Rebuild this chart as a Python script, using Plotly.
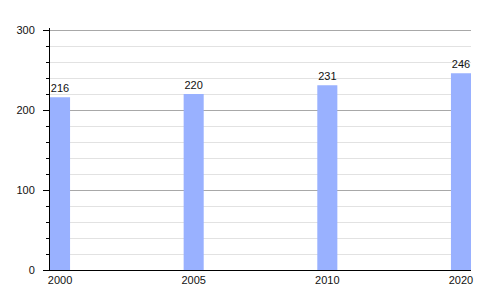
import plotly.graph_objects as go

years = ["2000", "2005", "2010", "2020"]
values = [216, 220, 231, 246]
y_ticks = [0, 100, 200, 300]

positions = list(range(len(years)))

fig = go.Figure(
    go.Bar(
        x=positions,
        y=values,
        width=0.15,
        marker=dict(color="#99b1ff", line=dict(width=0)),
        text=[str(v) for v in values],
        textposition="outside",
        textfont=dict(family="Liberation Sans, Arial, sans-serif", size=11, color="#111"),
        cliponaxis=False,
    )
)

x_range = [-0.075, len(years) - 1 + 0.075]

fig.update_layout(
    width=500,
    height=300,
    margin=dict(l=50, r=29, t=28, b=30),
    paper_bgcolor="white",
    plot_bgcolor="white",
    showlegend=False,
    font=dict(family="Liberation Sans, Arial, sans-serif", size=11, color="#111"),
    xaxis=dict(
        tickmode="array",
        tickvals=positions,
        ticktext=years,
        range=x_range,
        showgrid=False,
        showline=True,
        linecolor="black",
        linewidth=1,
        ticks="",
        zeroline=False,
        ticklabelstandoff=0,
    ),
    yaxis=dict(
        range=[0, 302.5],
        tickmode="array",
        tickvals=y_ticks,
        showgrid=True,
        gridcolor="#a8a8a8",
        gridwidth=1,
        showline=True,
        linecolor="black",
        linewidth=1,
        ticks="outside",
        ticklen=6,
        tickcolor="black",
        zeroline=False,
        ticklabelstandoff=6,
        minor=dict(
            dtick=20,
            showgrid=True,
            gridcolor="#e2e2e2",
            gridwidth=1,
            ticks="outside",
            ticklen=3,
            tickcolor="black",
        ),
    ),
)

fig.write_html("out.html")
